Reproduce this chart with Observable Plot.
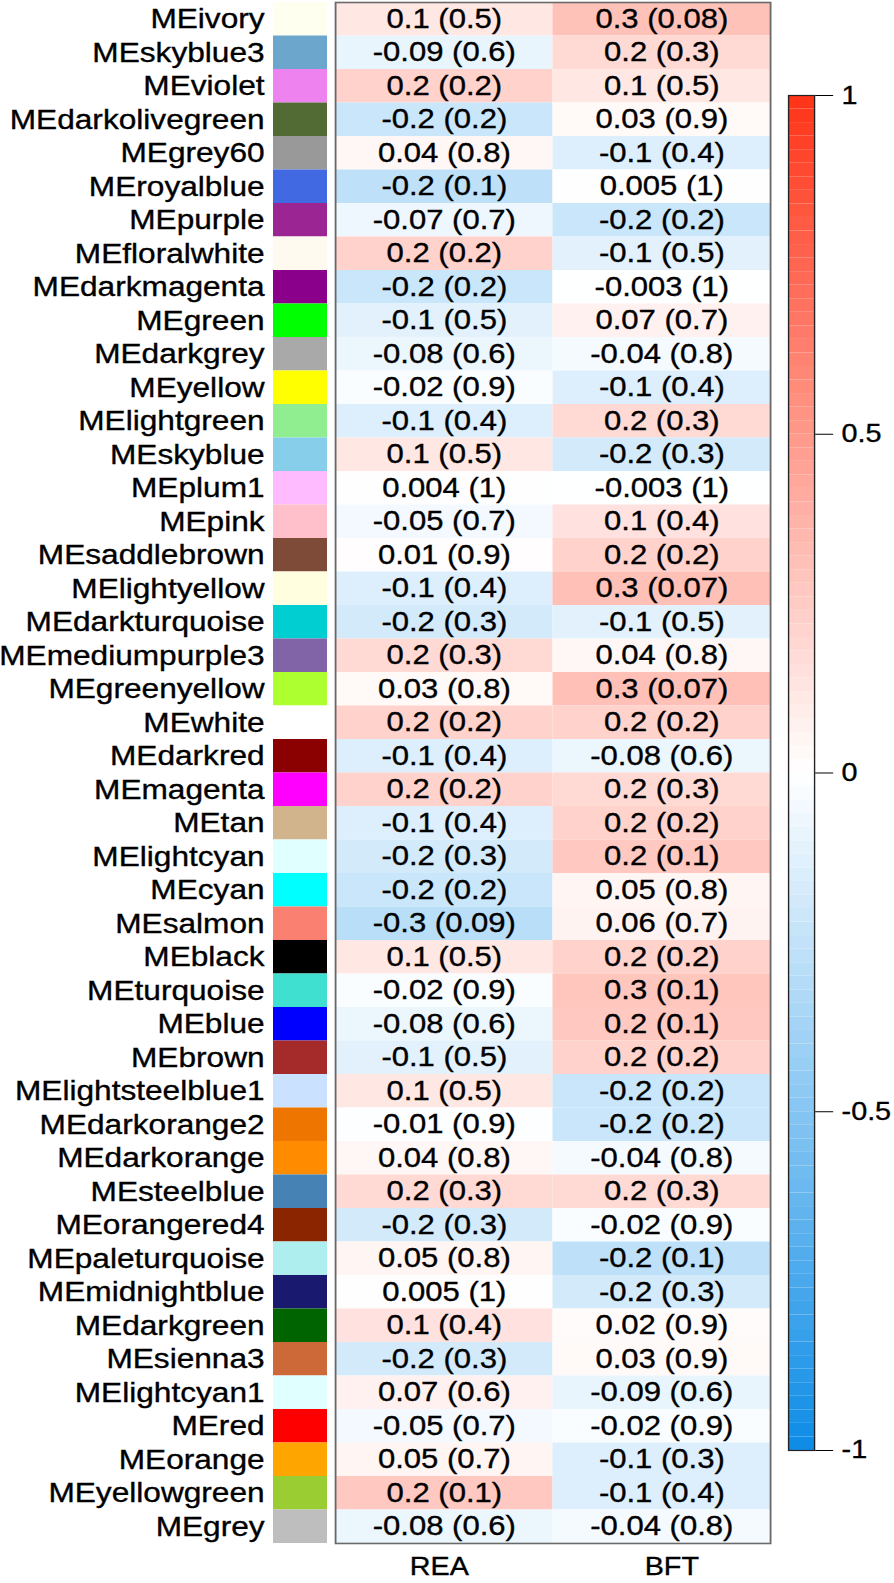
<!DOCTYPE html>
<html>
<head>
<meta charset="utf-8">
<script src="https://cdn.jsdelivr.net/npm/d3@7"></script>
<script src="https://cdn.jsdelivr.net/npm/@observablehq/plot@0.6"></script>
<style>
  html, body { margin: 0; padding: 0; background: #ffffff; }
  #wrap { position: relative; height: 1583px; transform-origin: 0 0; }
  #wrap > div, #wrap > svg { position: absolute; left: 0; top: 0; }
  #wrap text { stroke: #000; stroke-width: 0.35px; }
</style>
</head>
<body>
<div id="wrap"></div>
<script>
// ---------- data ----------
const modules = ["MEivory","MEskyblue3","MEviolet","MEdarkolivegreen","MEgrey60","MEroyalblue","MEpurple","MEfloralwhite","MEdarkmagenta","MEgreen","MEdarkgrey","MEyellow","MElightgreen","MEskyblue","MEplum1","MEpink","MEsaddlebrown","MElightyellow","MEdarkturquoise","MEmediumpurple3","MEgreenyellow","MEwhite","MEdarkred","MEmagenta","MEtan","MElightcyan","MEcyan","MEsalmon","MEblack","MEturquoise","MEblue","MEbrown","MElightsteelblue1","MEdarkorange2","MEdarkorange","MEsteelblue","MEorangered4","MEpaleturquoise","MEmidnightblue","MEdarkgreen","MEsienna3","MElightcyan1","MEred","MEorange","MEyellowgreen","MEgrey"];
const moduleColors = ["#FFFFF0","#6CA6CD","#EE82EE","#526B35","#999999","#4169E1","#9B2592","#FFFAF0","#8B008B","#00FF00","#A9A9A9","#FFFF00","#90EE90","#87CEEB","#FFBBFF","#FFC0CB","#7E4B38","#FFFFE0","#00CED1","#8163A8","#ADFF2F","#FFFFFF","#8B0000","#FF00FF","#D2B48C","#E0FFFF","#00FFFF","#FA8072","#000000","#40E0D0","#0000FF","#A52A2A","#CAE1FF","#EE7600","#FF8C00","#4682B4","#8B2500","#AFEEEE","#191970","#006400","#CD6839","#E0FFFF","#FF0000","#FFA500","#9ACD32","#BEBEBE"];
const traits = ["REA","BFT"];
// displayed correlation and p-value
const reaCor = [0.1,-0.09,0.2,-0.2,0.04,-0.2,-0.07,0.2,-0.2,-0.1,-0.08,-0.02,-0.1,0.1,0.004,-0.05,0.01,-0.1,-0.2,0.2,0.03,0.2,-0.1,0.2,-0.1,-0.2,-0.2,-0.3,0.1,-0.02,-0.08,-0.1,0.1,-0.01,0.04,0.2,-0.2,0.05,0.005,0.1,-0.2,0.07,-0.05,0.05,0.2,-0.08];
const reaP   = [0.5,0.6,0.2,0.2,0.8,0.1,0.7,0.2,0.2,0.5,0.6,0.9,0.4,0.5,1,0.7,0.9,0.4,0.3,0.3,0.8,0.2,0.4,0.2,0.4,0.3,0.2,0.09,0.5,0.9,0.6,0.5,0.5,0.9,0.8,0.3,0.3,0.8,1,0.4,0.3,0.6,0.7,0.7,0.1,0.6];
const bftCor = [0.3,0.2,0.1,0.03,-0.1,0.005,-0.2,-0.1,-0.003,0.07,-0.04,-0.1,0.2,-0.2,-0.003,0.1,0.2,0.3,-0.1,0.04,0.3,0.2,-0.08,0.2,0.2,0.2,0.05,0.06,0.2,0.3,0.2,0.2,-0.2,-0.2,-0.04,0.2,-0.02,-0.2,-0.2,0.02,0.03,-0.09,-0.02,-0.1,-0.1,-0.04];
const bftP   = [0.08,0.3,0.5,0.9,0.4,1,0.2,0.5,1,0.7,0.8,0.4,0.3,0.3,1,0.4,0.2,0.07,0.5,0.8,0.07,0.2,0.6,0.3,0.2,0.1,0.8,0.7,0.2,0.1,0.1,0.2,0.2,0.2,0.8,0.3,0.9,0.1,0.3,0.9,0.9,0.6,0.9,0.3,0.4,0.8];
// estimated unrounded correlation (cell shade)
const reaShade = [0.12,-0.09,0.22,-0.22,0.04,-0.27,-0.07,0.22,-0.22,-0.12,-0.08,-0.02,-0.14,0.12,0.004,-0.05,0.01,-0.14,-0.18,0.18,0.03,0.22,-0.14,0.22,-0.14,-0.18,-0.22,-0.29,0.12,-0.02,-0.08,-0.12,0.12,-0.01,0.04,0.18,-0.18,0.05,0.005,0.14,-0.18,0.07,-0.05,0.05,0.27,-0.08];
const bftShade = [0.30,0.18,0.12,0.03,-0.14,0.005,-0.22,-0.12,-0.003,0.07,-0.04,-0.14,0.18,-0.18,-0.003,0.14,0.22,0.31,-0.12,0.04,0.31,0.22,-0.08,0.18,0.22,0.27,0.05,0.06,0.22,0.28,0.27,0.22,-0.22,-0.22,-0.04,0.18,-0.02,-0.27,-0.18,0.02,0.03,-0.09,-0.02,-0.14,-0.14,-0.04];
const colorbarTicks = [-1,-0.5,0,0.5,1];

// ---------- layout ----------
const S = 1.15;                 // horizontal stretch of the reference
const W = 894 / S, H = 1583;
const font = "'Liberation Sans', Arial, Helvetica, sans-serif";
const wrap = document.getElementById("wrap");
wrap.style.width = W + "px";
wrap.style.transform = `scaleX(${S})`;

const colorScale = {type: "linear", domain: [-1, 0, 1], range: ["#0D8CE6", "#FFFFFF", "#FF3317"], interpolate: "rgb"};

const swatches = modules.map((m, i) => ({module: m, color: moduleColors[i]}));
const cells = modules.flatMap((m, i) => [
  {module: m, trait: "REA", r: reaShade[i], label: `${reaCor[i]} (${reaP[i]})`},
  {module: m, trait: "BFT", r: bftShade[i], label: `${bftCor[i]} (${bftP[i]})`}
]);
const steps = d3.range(100).map(i => ({lo: -1 + i * 0.02, hi: -1 + (i + 1) * 0.02, mid: -1 + (i + 0.5) * 0.02}));

// swatches + module labels
const plotA = Plot.plot({
  width: W, height: H,
  marginLeft: 273 / S, marginRight: W - 327 / S, marginTop: 2, marginBottom: 40,
  style: {fontFamily: font, fontSize: "27.5px", background: "transparent", color: "#000", overflow: "visible"},
  x: {domain: ["sw"], padding: 0, round: false, axis: null},
  y: {domain: modules, padding: 0, round: false, tickSize: 0, tickPadding: 9 / S, label: null},
  color: {type: "identity"},
  marks: [
    Plot.cell(swatches, {x: () => "sw", y: "module", fill: "color"})
  ]
});

// heatmap
const plotB = Plot.plot({
  width: W, height: H,
  marginLeft: 335 / S, marginRight: W - 770 / S, marginTop: 2, marginBottom: 40,
  style: {fontFamily: font, fontSize: "25px", background: "transparent", color: "#000", overflow: "visible"},
  x: {domain: traits, padding: 0, round: false, axis: null},
  y: {domain: modules, padding: 0, round: false, axis: null},
  color: colorScale,
  marks: [
    Plot.cell(cells, {x: "trait", y: "module", fill: "r"}),
    Plot.text(cells, {x: "trait", y: "module", text: "label", fontSize: 27, fill: "#000"}),
    Plot.frame({stroke: "#6a6a6a", strokeWidth: 1.6}),
    Plot.text(traits.slice(0, 1), {x: d => d, frameAnchor: "bottom", lineAnchor: "top", dy: 14, dx: -5 / S, fontSize: 25}),
    Plot.text(traits.slice(1), {x: d => d, frameAnchor: "bottom", lineAnchor: "top", dy: 14, dx: 10 / S, fontSize: 25})
  ]
});

// colour bar
const plotC = Plot.plot({
  width: W, height: H,
  marginLeft: 788 / S, marginRight: W - 814 / S, marginTop: 95, marginBottom: H - 1450,
  style: {fontFamily: font, fontSize: "25px", background: "transparent", color: "#000", overflow: "visible"},
  y: {domain: [-1, 1], ticks: colorbarTicks, tickFormat: d => String(d), tickSize: 18 / S, tickPadding: 9 / S, label: null, axis: "right"},
  color: colorScale,
  marks: [
    Plot.rectY(steps, {y1: "lo", y2: "hi", fill: "mid"}),
    Plot.frame({stroke: "#222", strokeWidth: 1.2})
  ]
});

wrap.append(plotA, plotB, plotC);
</script>
</body>
</html>
